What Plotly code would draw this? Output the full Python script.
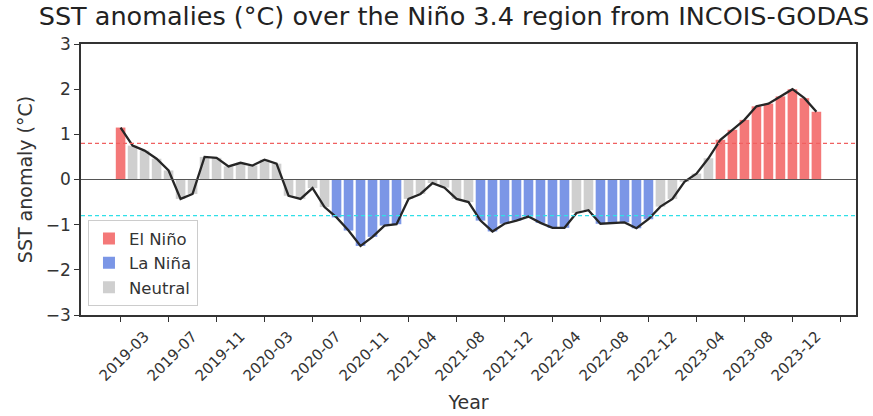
import plotly.graph_objects as go

# ---- data ----
tick_labels = ["2019-03", "2019-07", "2019-11", "2020-03", "2020-07", "2020-11",
               "2021-04", "2021-08", "2021-12", "2022-04", "2022-08", "2022-12",
               "2023-04", "2023-08", "2023-12", ""]

sst_anomaly = [1.15, 0.75, 0.64, 0.46, 0.20, -0.43, -0.32, 0.50, 0.48, 0.29,
               0.37, 0.31, 0.44, 0.35, -0.36, -0.43, -0.19, -0.61, -0.84, -1.13,
               -1.47, -1.27, -1.02, -0.99, -0.43, -0.32, -0.08, -0.18, -0.43, -0.50,
               -0.91, -1.15, -0.98, -0.91, -0.82, -0.96, -1.07, -1.07, -0.74, -0.68,
               -0.98, -0.96, -0.95, -1.08, -0.88, -0.60, -0.43, -0.05, 0.13, 0.47,
               0.88, 1.10, 1.32, 1.62, 1.68, 1.84, 2.00, 1.80, 1.50]

el_nino_threshold = 0.8
la_nina_threshold = -0.8

phase_names = ["El Niño", "La Niña", "Neutral"]
phase_colors = {"El Niño": "#f47878", "La Niña": "#7b96e6", "Neutral": "#cfcfcf"}

# ---- build ----
idx = list(range(len(sst_anomaly)))


def phase(v):
    if v >= el_nino_threshold:
        return "El Niño"
    if v <= la_nina_threshold:
        return "La Niña"
    return "Neutral"


phases = [phase(v) for v in sst_anomaly]

fig = go.Figure()
for name in phase_names:
    xs = [i for i in idx if phases[i] == name]
    ys = [sst_anomaly[i] for i in idx if phases[i] == name]
    fig.add_trace(go.Bar(x=xs, y=ys, name=name, marker_color=phase_colors[name],
                         marker_line_width=0, width=0.8))

fig.add_trace(go.Scatter(x=idx, y=sst_anomaly, mode="lines", showlegend=False,
                         line=dict(color="#262626", width=2.3)))

fig.add_hline(y=0, line=dict(color="#555555", width=1.2), layer="above")
fig.add_hline(y=el_nino_threshold, line=dict(color="#f06060", width=1.4, dash="4px,3px"))
fig.add_hline(y=la_nina_threshold, line=dict(color="#30e0e8", width=1.4, dash="4px,3px"))

tickvals = [4 * k for k in range(len(tick_labels))]

font_family = "DejaVu Sans"
fig.update_layout(
    width=873, height=416,
    margin=dict(l=81, r=17, t=44, b=101),
    paper_bgcolor="white", plot_bgcolor="white",
    font=dict(family=font_family, color="#333333", size=15),
    barmode="overlay",
    title=dict(text="SST anomalies (°C) over the Niño 3.4 region from INCOIS-GODAS",
               x=0.52, xanchor="center", y=0.962, yanchor="middle",
               font=dict(size=25.5, color="#222222", family=font_family)),
    showlegend=True,
    legend=dict(x=0.009, y=0.35, xanchor="left", yanchor="top",
                bgcolor="white", bordercolor="#cccccc", borderwidth=1,
                font=dict(size=16.5, color="#333333"), traceorder="normal",
                itemwidth=30),
    xaxis=dict(range=[-3.3, 61.3], tickmode="array", tickvals=tickvals,
               ticktext=tick_labels, tickangle=-45, ticks="outside", ticklen=5,
               tickcolor="#333333", showgrid=False, zeroline=False,
               showline=True, linecolor="#333333", linewidth=1.5, mirror=True,
               tickfont=dict(size=15), ticklabelshift=24, automargin=False,
               title=dict(text="Year", font=dict(size=19), standoff=12)),
    yaxis=dict(range=[-3, 3], tickmode="array", tickvals=[-3, -2, -1, 0, 1, 2, 3],
               ticktext=["−3", "−2", "−1", "0", "1", "2", "3"],
               ticks="outside", ticklen=5, tickcolor="#333333", showgrid=False,
               zeroline=False, showline=True, linecolor="#333333", linewidth=1.5,
               mirror=True, tickfont=dict(size=17), automargin=False,
               title=dict(text="SST anomaly (°C)", font=dict(size=19), standoff=8)),
)

fig.write_html("out.html", config={"displayModeBar": False},
               post_script="document.body.style.margin='0';document.body.style.padding='0';")
